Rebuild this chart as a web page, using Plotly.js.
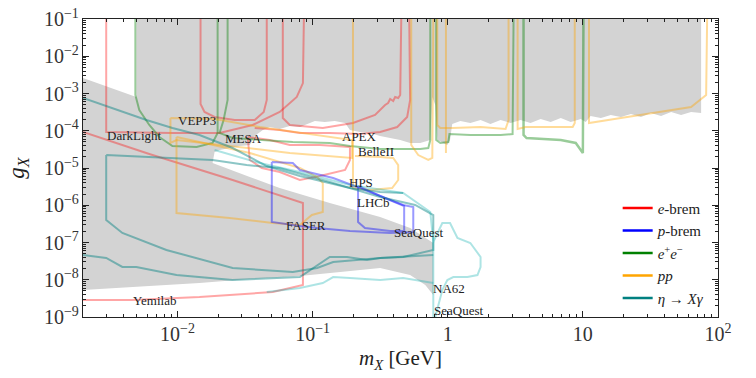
<!DOCTYPE html>
<html><head><meta charset="utf-8">
<script src="https://cdn.plot.ly/plotly-3.0.1.min.js"></script>
<style>html,body{margin:0;padding:0;background:#fff}#c{width:756px;height:378px}</style>
</head><body><div id="c"></div>
<script>
// ---- excluded region (gray) ----
const grayX = [0.00496,75,75,63.2,53.3,45,37.9,31.9,26.9,22.7,19.1,16.1,13.6,11.4,10.5,9.66,8.13,6.86,5.78,4.87,4.10,3.46,2.92,2.46,2.07,1.75,1.47,1.24,1.08,1.04,0.993,0.881,0.837,0.809,0.769,0.743,0.626,0.527,0.445,0.375,0.316,0.266,0.224,0.189,0.174,0.146,0.123,0.104,0.0907,0.0805,0.0678,0.0571,0.0482,0.0428,0.0373,0.0343,0.0289,0.0243,0.0205,0.01882,0.01819,0.0343,0.0571,0.134,0.316,0.527,0.782,0.782,0.682,0.527,0.316,0.160,0.0805,0.0343,0.01455,0.00619,0.002,0.002,0.00496,0.00496];
const grayY = [0.1,0.1,2.99e-4,3.19e-4,2.65e-4,3.19e-4,2.49e-4,2.99e-4,2.34e-4,2.82e-4,2.34e-4,2.65e-4,2.2e-4,2.49e-4,1.72e-4,2.07e-4,1.72e-4,2.2e-4,1.72e-4,2.07e-4,1.61e-4,1.94e-4,1.61e-4,1.94e-4,1.52e-4,1.94e-4,1.61e-4,1.83e-4,1.52e-4,5.64e-5,4.14e-5,4.99e-5,5.64e-5,4.91e-4,8.05e-4,5.64e-5,4.69e-5,4.69e-5,5.64e-5,6.38e-5,7.23e-5,8.7e-5,9.25e-5,1.05e-4,1.61e-4,1.83e-4,1.72e-4,1.83e-4,1.52e-4,1.26e-4,1.34e-4,1.11e-4,1.26e-4,1.05e-4,7.23e-5,4.14e-5,3.9e-5,3.44e-5,3.04e-5,2.69e-5,1.36e-5,5.73e-6,2.9e-6,1.15e-6,4.84e-7,2.45e-7,9.7e-8,3.9e-9,7.23e-9,1.34e-8,2.07e-8,1.61e-8,1.26e-8,1.05e-8,8.18e-9,6.79e-9,5.31e-9,2.61e-3,8.05e-4,0.1];

// ---- e-brem (red) ----
const darkLightX = [0.00297,0.00297,0.00918,0.0205,0.036,0.0571,0.0764,0.0848,0.0862];
const darkLightY = [0.1,9.25e-5,8.7e-5,8.7e-5,1.43e-4,3.19e-4,8.05e-4,1.91e-3,0.1];
const vepp3X = [0.01482,0.01482,0.01586,0.01882,0.0265,0.0373,0.0435,0.0458,0.0458];
const vepp3Y = [0.1,5.22e-4,3.19e-4,2.34e-4,1.94e-4,1.94e-4,3.19e-4,6.69e-4,0.1];
const redMidX = [0.0602,0.0602,0.0678,0.119,0.199,0.29,0.344,0.362,0.375,0.395,0.408,0.43,0.445,0.453];
const redMidY = [0.1,2.2e-4,1.43e-4,1.19e-4,1.61e-4,2.65e-4,4.91e-4,5.56e-4,7.12e-4,6.3e-4,8.05e-4,7.57e-4,9.12e-4,0.1];
const apexX = [0.519,0.527,0.501,0.423,0.316,0.224,0.134,0.0805,0.0571,0.0373];
const apexY = [0.1,6.69e-4,2.34e-4,1.26e-4,9.25e-5,8.18e-5,8.7e-5,8.7e-5,1.05e-4,1.19e-4];
const mesaX = [0.0331,0.0343,0.0421,0.0571,0.0805,0.113,0.174,0.189,0.189,0.113,0.0678,0.0482,0.0331];
const mesaY = [6.79e-5,1.64e-5,1.0e-5,7.81e-6,4.76e-6,6.09e-6,8.83e-6,1.64e-5,3.66e-5,4.14e-5,4.14e-5,5.64e-5,6.79e-5];
const yemilabX = [0.002,0.00619,0.0256,0.0848,0.0848,0.0507,0.01455,0.00463,0.002];
const yemilabY = [9.25e-5,2.38e-5,4.76e-6,1.15e-6,7.23e-9,4.69e-9,3.44e-9,2.86e-9,2.86e-9];

// ---- e+e- (green) ----
const greenAX = [0.00488,0.00488,0.00522,0.00619,0.00735,0.00918,0.01384,0.01819,0.01982,0.01982];
const greenAY = [0.1,9.12e-4,3.61e-4,1.43e-4,6.79e-5,3.9e-5,3.66e-5,4.69e-5,8.7e-5,0.1];
const greenBX = [0.0235,0.0235,0.02195,0.0205,0.0256,0.0406,0.0714,0.134,0.189,0.316,0.626,0.718,0.743,0.743];
const greenBY = [0.1,6.69e-4,1.94e-4,8.7e-5,6.38e-5,5.64e-5,4.99e-5,4.69e-5,3.9e-5,3.24e-5,3.24e-5,3.44e-5,5.64e-5,0.1];
const greenCX = [0.822,0.822,0.881,1.01,1.03,1.47,2.46,3.02,3.07];
const greenCY = [0.1,5.64e-5,4.69e-5,4.99e-5,8.18e-5,7.69e-5,7.69e-5,8.18e-5,0.1];
const greenDX = [3.64,3.64,3.83,4.87,6.86,8.86,10,10.1];
const greenDY = [0.1,7.69e-5,6.38e-5,6.0e-5,5.64e-5,4.69e-5,2.53e-5,0.1];

// ---- pp (orange) ----
const ppAX = [0.00887,0.01882,0.0406,0.134,0.196,0.196,0.0678,0.0243,0.00984,0.00887,0.00887];
const ppAY = [2.2e-4,2.07e-4,1.26e-4,6.79e-5,5.64e-5,1.86e-5,2.53e-5,3.9e-5,5.64e-5,4.69e-5,2.2e-4];
const ppBX = [0.00984,0.00984,0.0243,0.0507,0.0805,0.0988,0.119,0.119,0.108,0.0805,0.0343,0.00984];
const ppBY = [6.79e-5,6.19e-7,4.55e-7,3.34e-7,2.95e-7,5.47e-7,6.59e-7,3.95e-6,5.73e-6,1.0e-5,2.53e-5,6.79e-5];
const belleX = [0.199,0.199,0.266,0.388,0.43,0.43,0.395,0.316,0.206];
const belleY = [0.1,2.9e-6,2.56e-6,2.9e-6,4.76e-6,1.2e-5,1.86e-5,1.97e-5,2.1e-5];
const ppCX = [0.537,0.537,0.605,0.718,0.769,0.782];
const ppCY = [0.1,4.14e-5,2.23e-5,1.64e-5,1.86e-5,0.1];
const ppDX = [0.837,0.837,0.881,1.08,1.75,2.68,2.82,2.82];
const ppDY = [0.1,1.43e-4,1.19e-4,1.19e-4,1.26e-4,1.11e-4,1.94e-4,0.1];
const ppEX = [0.97,0.97];
const ppEY = [0.1,2.53e-5];
const ppFX = [3.29,3.29,3.77,5.78,8.41,8.71,8.71];
const ppFY = [0.1,1.11e-4,1.26e-4,1.26e-4,1.26e-4,1.61e-4,0.1];
const ppGX = [11.1,11.1,19.1,37.9,63.2,81.7,83.1];
const ppGY = [0.1,1.61e-4,2.2e-4,3.19e-4,4.34e-4,9.12e-4,0.1];

// ---- p-brem (blue) ----
const faserX = [0.0499,0.0714,0.0805,0.142,0.224,0.468,0.556,0.556,0.375,0.189,0.108,0.0805,0.0499,0.0499];
const faserY = [1.45e-5,1.36e-5,8.83e-6,5.39e-6,2.9e-6,1.02e-6,8.97e-7,1.91e-7,1.8e-7,2.04e-7,2.45e-7,2.77e-7,3.55e-7,1.45e-5];
const lhcbX = [0.217,0.217,0.244,0.375,0.476,0.476,0.316,0.217];
const lhcbY = [3.29e-6,3.55e-7,2.45e-7,2.04e-7,2.04e-7,9.55e-7,1.77e-6,3.29e-6];

// ---- eta -> X gamma (teal) ----
const etaAX = [0.002,0.00313,0.00589,0.00918,0.01455,0.0256,0.0458,0.0805,0.189,0.316,0.468];
const etaAY = [7.57e-4,4.34e-4,1.94e-4,1.19e-4,7.69e-5,3.44e-5,1.13e-5,6.09e-6,2.9e-6,2.27e-6,2.13e-6];
const etaBX = [0.00297,0.01819,0.0325,0.0571,0.134,0.316,0.574,0.782,0.782,0.468,0.316,0.142,0.108,0.0714,0.0256,0.00828,0.00391,0.00297,0.00297];
const etaBY = [2.23e-5,1.64e-5,1.2e-5,1.0e-5,4.21e-6,1.66e-6,1.02e-6,5.47e-7,6.3e-8,4.08e-8,3.84e-8,2.99e-8,2.07e-8,1.61e-8,2.07e-8,6.3e-8,1.8e-7,4.02e-7,2.23e-5];
const etaCX = [0.002,0.00297,0.00391,0.00496,0.00984,0.0256,0.0805,0.119,0.134,0.18,0.253,0.316,0.468,0.782];
const etaCY = [4.62e-8,3.84e-8,2.2e-8,2.2e-8,1.34e-8,9.85e-9,1.18e-8,2.99e-8,4.08e-8,4.08e-8,3.39e-8,3.84e-8,4.08e-8,4.62e-8];
const seaQuestX = [0.01882,0.0406,0.0805,0.189,0.468,0.743,0.782,0.912,1.04,1.18,1.47,1.75,1.75,1.66,1.40,1.10,0.993,0.912,0.809];
const seaQuestY = [3.04e-5,1.36e-5,7.81e-6,3.49e-6,2.13e-6,6.59e-7,1.03e-7,3.34e-7,3.34e-7,1.32e-7,9.7e-8,4.08e-8,2.2e-8,1.34e-8,1.18e-8,1.18e-8,9.85e-9,5.31e-9,1e-9];
const seaQuestVX = [0.782,0.782];
const seaQuestVY = [1.03e-7,1e-9];
const etaDX = [0.0458,0.0805,0.119,0.142,0.189,0.316,0.468,0.782];
const etaDY = [4.69e-9,6.0e-9,8.18e-9,1.18e-8,1.11e-8,9.85e-9,1.11e-8,8.18e-9];

// ---- labels ----
const labelText = ['DarkLight','VEPP3','MESA','APEX','BelleII','HPS','LHCb','FASER','SeaQuest','NA62','SeaQuest','Yemilab'];
const labelX = [0.0048,0.01384,0.0309,0.224,0.295,0.23,0.28,0.0891,0.605,1.03,1.2,0.00675];
const labelY = [7.69e-5,1.83e-4,6.38e-5,7.0e-5,2.75e-5,4.21e-6,1.22e-6,2.95e-7,1.8e-7,6.0e-9,1.54e-9,2.86e-9];

const legendNames = ['<i>e</i>-brem','<i>p</i>-brem','<i>e</i><sup>+</sup><i>e</i><sup>−</sup>','<i>pp</i>','<i>η</i> → <i>Xγ</i>'];
const legendColors = ['#ff0000','#0000ff','#008000','#ffa500','#008080'];

const RED='rgba(255,0,0,0.35)', GREEN='rgba(0,128,0,0.4)', ORANGE='rgba(255,165,0,0.4)',
      BLUE='rgba(0,0,255,0.4)', TEAL='rgba(0,128,128,0.45)', LTEAL='rgba(0,170,170,0.32)';
function ln(x,y,c,w){return {x:x,y:y,type:'scatter',mode:'lines',line:{color:c,width:w||2},showlegend:false,hoverinfo:'skip'};}

const traces = [
  {x:grayX,y:grayY,type:'scatter',mode:'lines',fill:'toself',fillcolor:'#d3d3d3',line:{width:0,color:'#d3d3d3'},showlegend:false,hoverinfo:'skip'},
  ln(darkLightX,darkLightY,RED), ln(vepp3X,vepp3Y,RED), ln(redMidX,redMidY,RED), ln(apexX,apexY,RED),
  ln(mesaX,mesaY,RED), ln(yemilabX,yemilabY,RED),
  ln(greenAX,greenAY,GREEN), ln(greenBX,greenBY,GREEN), ln(greenCX,greenCY,GREEN), ln(greenDX,greenDY,GREEN,2.5),
  ln(ppAX,ppAY,ORANGE), ln(ppBX,ppBY,ORANGE), ln(belleX,belleY,ORANGE), ln(ppCX,ppCY,ORANGE),
  ln(ppDX,ppDY,ORANGE), ln(ppEX,ppEY,ORANGE), ln(ppFX,ppFY,ORANGE), ln(ppGX,ppGY,ORANGE),
  ln(faserX,faserY,BLUE), ln(lhcbX,lhcbY,BLUE),
  ln(etaAX,etaAY,TEAL), ln(etaBX,etaBY,TEAL), ln(etaCX,etaCY,TEAL),
  ln(seaQuestX,seaQuestY,LTEAL), ln(seaQuestVX,seaQuestVY,LTEAL), ln(etaDX,etaDY,LTEAL)
];
legendNames.forEach((n,i)=>traces.push({x:[null],y:[null],type:'scatter',mode:'lines',name:n,line:{color:legendColors[i],width:2.5},showlegend:true}));

const SERIF = '"Liberation Serif","DejaVu Serif",serif';
const annotations = labelText.map((t,i)=>({x:Math.log10(labelX[i]),y:Math.log10(labelY[i]),xref:'x',yref:'y',text:t,showarrow:false,font:{family:SERIF,size:13,color:'#222'}}));

const axisCommon = {type:'log',showgrid:false,zeroline:false,showline:true,linecolor:'#222',linewidth:1,mirror:'ticks',
  ticks:'inside',ticklen:6,tickwidth:1,tickcolor:'#222',dtick:1,exponentformat:'power',
  tickfont:{family:SERIF,size:16,color:'#333'},
  minor:{ticks:'inside',ticklen:3,tickcolor:'#222',dtick:'D1',showgrid:false}};

const layout = {
  width:756,height:378,margin:{l:83,r:38,t:19,b:61},
  paper_bgcolor:'#fff',plot_bgcolor:'#fff',
  xaxis:Object.assign({},axisCommon,{range:[Math.log10(0.002),2],
    title:{text:'<i>m</i><sub><i>X</i></sub> [GeV]',font:{family:SERIF,size:21,color:'#222'},standoff:6}}),
  yaxis:Object.assign({},axisCommon,{range:[-9,-1],
    title:{text:'<i>g</i><sub><i>X</i></sub>',font:{family:SERIF,size:23,color:'#222'},standoff:12}}),
  legend:{x:0.842,y:0.42,xanchor:'left',yanchor:'top',bgcolor:'rgba(0,0,0,0)',font:{family:SERIF,size:15,color:'#222'},itemwidth:30,tracegroupgap:0},
  annotations:annotations,
  showlegend:true
};
Plotly.newPlot('c',traces,layout,{staticPlot:true,displayModeBar:false});
</script></body></html>
